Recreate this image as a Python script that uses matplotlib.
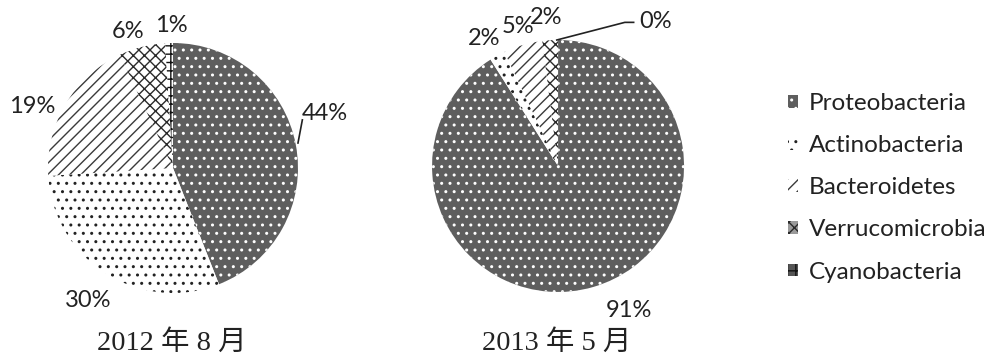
import matplotlib
matplotlib.use("Agg")
import numpy as np
import matplotlib.pyplot as plt
from matplotlib.patches import Patch

phyla = ["Proteobacteria", "Actinobacteria", "Bacteroidetes", "Verrucomicrobia", "Cyanobacteria"]
share_2012_08 = [44, 30, 19, 6, 1]
share_2013_05 = [91, 2, 5, 2, 0]
titles = ["2012 年 8 月", "2013 年 5 月"]

# look of each phylum (grey scale print style)
faces = ["#5e5e5e", "white", "white", "white", "white"]
hatch_colors = ["white", "#222222", "#3a3a3a", "#2a2a2a", "#111111"]
hatches = ["..", "..", "///", "xxx", "++"]
legend_faces = ["#5e5e5e", "white", "white", "#9a9a9a", "#555555"]

# label layout: radial distance and angle nudge (deg) per wedge
left_dist = [1.29, 1.26, 1.23, 1.15, 1.14]
left_nudge = [9, 0, 7, 4, -1]
right_dist = [1.28, 1.17, 1.15, 1.18, 1.38]
right_nudge = [10, 1.5, 0, 1, -34]

plt.rcParams["hatch.linewidth"] = 1.0
label_font = ["Lato", "DejaVu Sans"]
title_font = ["Liberation Serif", "Noto Sans CJK SC"]

fig = plt.figure(figsize=(9.95, 3.62), dpi=100)
ax_left = fig.add_axes([0.0482, 0.1906, 0.2513, 0.6906])
ax_right = fig.add_axes([0.4342, 0.1934, 0.2533, 0.6961])


def draw_pie(ax, values, dists, nudges):
    wedges, _ = ax.pie(values, startangle=90, counterclock=False, radius=1.0)
    for w, fc, hc, h in zip(wedges, faces, hatch_colors, hatches):
        w.set_facecolor(fc)
        w.set_edgecolor(hc)
        w.set_linewidth(0)
        w.set_hatch(h)
    for w, v, d, n in zip(wedges, values, dists, nudges):
        mid = np.deg2rad((w.theta1 + w.theta2) / 2 + n)
        ax.text(d * np.cos(mid), d * np.sin(mid), f"{v}%", ha="center", va="center",
                fontsize=17, family=label_font, color="#222222")
    ax.set_xlim(-1, 1)
    ax.set_ylim(-1, 1)
    ax.set_aspect("equal")
    ax.axis("off")
    return wedges


draw_pie(ax_left, share_2012_08, left_dist, left_nudge)
draw_pie(ax_right, share_2013_05, right_dist, right_nudge)

# leader lines
ax_left.plot([1.0, 1.035], [0.2, 0.385], color="#222222", lw=1.2, clip_on=False)
ax_right.plot([-0.01, 0.53, 0.6], [1.0, 1.14, 1.14], color="#222222", lw=1.2, clip_on=False)

for x, t in zip([172 / 995, 557 / 995], titles):
    fig.text(x, 1 - 343 / 362, t, ha="center", va="center", fontsize=20.5,
             family=title_font, color="#222222")

handles = [Patch(facecolor=fc, edgecolor=hc, hatch=h, linewidth=0)
           for fc, hc, h in zip(legend_faces, hatch_colors, hatches)]
fig.legend(handles, phyla, loc="upper left", bbox_to_anchor=(788 / 995, 1 - 93 / 362),
           frameon=False, prop={"family": label_font, "size": 17.5},
           handlelength=0.42, handleheight=0.42, handletextpad=0.45,
           labelspacing=0.87, borderpad=0, borderaxespad=0,
           labelcolor="#222222")

fig.savefig("out.png", dpi=100)
